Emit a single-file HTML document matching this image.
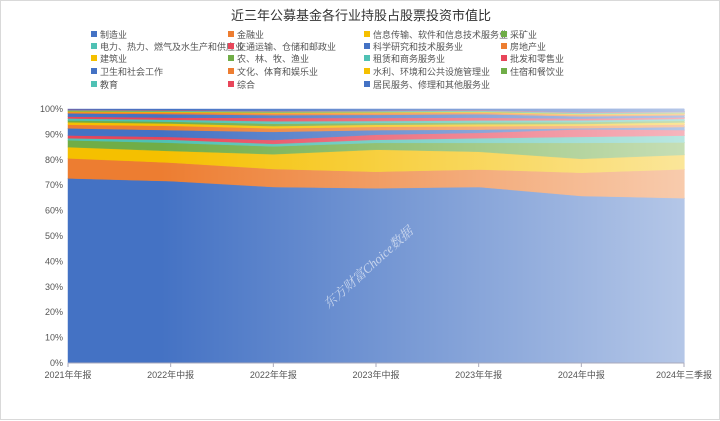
<!DOCTYPE html>
<html><head><meta charset="utf-8"><style>
html,body{margin:0;padding:0;background:#fff;}
#wrap{position:relative;width:718px;height:418px;border:1px solid #d9d9d9;font-family:"Liberation Sans","Noto Sans CJK SC",sans-serif;}
svg{position:absolute;left:0;top:0;}
</style></head><body>
<div id="wrap">
<svg id="chart" width="720" height="420"></svg>
</div>
<script>
const categories=["2021年年报","2022年中报","2022年年报","2023年中报","2023年年报","2024年中报","2024年三季报"];
const seriesNames=["制造业","金融业","信息传输、软件和信息技术服务业","采矿业","电力、热力、燃气及水生产和供应业","交通运输、仓储和邮政业","科学研究和技术服务业","房地产业","建筑业","农、林、牧、渔业","租赁和商务服务业","批发和零售业","卫生和社会工作","文化、体育和娱乐业","水利、环境和公共设施管理业","住宿和餐饮业","教育","综合","居民服务、修理和其他服务业"];
const s0=[72.7,71.6,69.3,68.8,69.3,66.1,65.1];
const s1=[7.9,7.3,7.1,6.5,6.9,9.2,11.4];
const s2=[4.4,4.6,5.8,8.7,7.0,5.5,5.7];
const s3=[2.7,3.2,3.1,2.7,3.5,6.3,4.9];
const s4=[0.8,1.2,1.0,1.2,1.8,2.4,2.7];
const s5=[1.1,1.1,1.5,2.0,2.1,3.0,2.2];
const s6=[2.8,2.7,3.2,1.8,1.3,0.4,1.2];
const s7=[1.4,1.7,1.4,1.3,1.3,1.0,1.0];
const s8=[1.0,0.9,0.9,0.8,0.8,0.7,0.8];
const s9=[0.7,0.7,0.9,0.7,0.7,0.7,0.7];
const s10=[0.8,0.8,1.0,0.8,0.8,0.7,0.7];
const s11=[0.7,0.8,1.3,1.2,1.1,0.7,0.6];
const s12=[1.3,1.4,1.1,1.2,1.4,0.9,0.8];
const s13=[0.5,0.6,0.7,0.7,0.6,0.6,0.5];
const s14=[0.3,0.3,0.3,0.3,0.3,0.3,0.3];
const s15=[0.2,0.2,0.2,0.2,0.2,0.2,0.2];
const s16=[0.3,0.3,0.3,0.3,0.3,0.3,0.3];
const s17=[0.2,0.2,0.2,0.2,0.2,0.2,0.2];
const s18=[0.2,0.4,0.7,0.6,0.4,1.3,1.0];
const yTicks=["0%","10%","20%","30%","40%","50%","60%","70%","80%","90%","100%"];
const series=[s0,s1,s2,s3,s4,s5,s6,s7,s8,s9,s10,s11,s12,s13,s14,s15,s16,s17,s18];
const colors=["#4472c4","#ed7d31","#f5c000","#70ad47","#4fc1b4","#e8465a","#4472c4","#ed7d31","#f5c000","#70ad47","#4fc1b4","#e8465a","#4472c4","#ed7d31","#f5c000","#70ad47","#4fc1b4","#e8465a","#4472c4"];
const X0=67,X1=683,Y0=362,Y1=108;
const xs=i=>X0+(X1-X0)*i/(categories.length-1);
const ys=p=>Y0-(Y0-Y1)*p/100;
const NS="http://www.w3.org/2000/svg";
const svg=document.getElementById('chart');
function mk(t,a,p){const e=document.createElementNS(NS,t);for(const k in a)e.setAttribute(k,a[k]);(p||svg).appendChild(e);return e;}
// defs
const defs=mk('defs',{});
const lg=mk('linearGradient',{id:'fade',x1:'0',y1:'0',x2:'1',y2:'0'},defs);
mk('stop',{offset:'0','stop-color':'#fff','stop-opacity':'0'},lg);
mk('stop',{offset:'0.15','stop-color':'#fff','stop-opacity':'0'},lg);
mk('stop',{offset:'1','stop-color':'#fff','stop-opacity':'0.6'},lg);
// title
const t=mk('text',{x:360,y:19,'text-anchor':'middle','font-size':13,fill:'#333'});t.textContent="近三年公募基金各行业持股占股票投资市值比";

// legend
const colX=[90,227,363,500],rowY=[37,49,61,74,87];
seriesNames.forEach((n,i)=>{const g=mk('g',{});


const x=colX[i%4],y=rowY[Math.floor(i/4)];
mk('rect',{x:x,y:y-7,width:6,height:6,fill:colors[i]},g);
const tx=mk('text',{x:x+9,y:y,'font-size':9,fill:'#555'},g);tx.textContent=n;});
// totals
const totals=categories.map((c,i)=>series.reduce((a,s)=>a+s[i],0));
const areaG=mk('g',{});


let cum=categories.map(()=>0);
series.forEach((s,k)=>{
 const lo=cum.slice();const hi=cum.map((v,i)=>v+s[i]/totals[i]*100);
 let d="M"+hi.map((v,i)=>xs(i)+","+ys(v)).join(" L");
 for(let i=categories.length-1;i>=0;i--)d+=" L"+xs(i)+","+ys(lo[i]);
 d+=" Z";
 const p=mk('path',{d:d,fill:colors[k],stroke:colors[k],'stroke-width':0.6,'stroke-opacity':0.8},areaG);
 
 
 cum=hi;});
mk('rect',{x:X0,y:Y1,width:X1-X0,height:Y0-Y1,fill:'url(#fade)'},areaG);
// axes
yTicks.forEach((l,i)=>{const y=ys(i*10);const tx=mk('text',{x:62,y:y+3,'text-anchor':'end','font-size':9,fill:'#555'});tx.textContent=l;
});
mk('line',{x1:X0,y1:Y0,x2:X1,y2:Y0,stroke:'#aab',"stroke-width":1});
categories.forEach((c,i)=>{mk('line',{x1:xs(i),y1:Y0,x2:xs(i),y2:Y0+4,stroke:'#aab'});
const tx=mk('text',{x:xs(i),y:377,'text-anchor':'middle','font-size':9,fill:'#555'});tx.textContent=c;
});
// watermark
const w=mk('text',{x:370,y:270,'text-anchor':'middle','font-size':13,fill:'#fff','fill-opacity':0.6,transform:'rotate(-42 370 270)','font-family':'Liberation Serif, Noto Serif CJK SC, serif','font-style':'italic'});
w.textContent="东方财富Choice数据";

</script>
</body></html>
